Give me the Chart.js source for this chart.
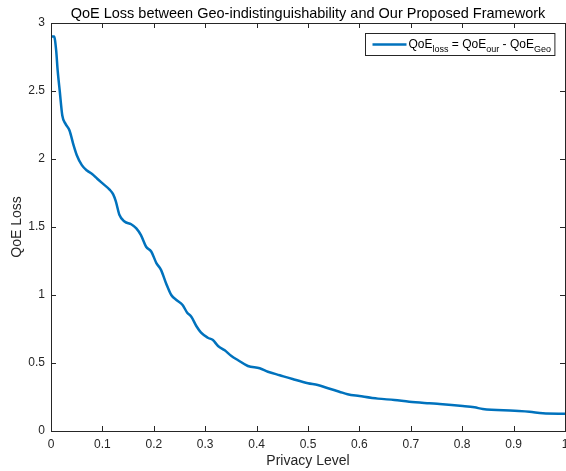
<!DOCTYPE html>
<html>
<head>
<meta charset="utf-8">
<script src="https://cdn.jsdelivr.net/npm/chart.js@4/dist/chart.umd.min.js"></script>
<style>
  html, body { margin: 0; padding: 0; background: #fff; }
  #wrap { width: 566px; height: 471px; }
</style>
</head>
<body>
<div id="wrap"><canvas id="chart" width="566" height="471"></canvas></div>
<script>
// valores
const privacyLevel = [0, 0.006, 0.010, 0.013, 0.017, 0.022, 0.028, 0.036, 0.044, 0.050,
  0.060, 0.070, 0.080, 0.090, 0.102, 0.114, 0.121, 0.126, 0.133, 0.143,
  0.156, 0.166, 0.175, 0.185, 0.195, 0.205, 0.214, 0.224, 0.234, 0.244,
  0.256, 0.265, 0.273, 0.283, 0.292, 0.305, 0.315, 0.325, 0.338, 0.351,
  0.364, 0.383, 0.406, 0.422, 0.445, 0.470, 0.500, 0.519, 0.539, 0.561,
  0.577, 0.600, 0.636, 0.668, 0.697, 0.736, 0.756, 0.801, 0.824, 0.840,
  0.902, 0.931, 0.957, 1.0]
const qoeLoss = [2.90, 2.90, 2.80, 2.65, 2.50, 2.32, 2.26, 2.21, 2.10, 2.03,
  1.955, 1.915, 1.89, 1.855, 1.815, 1.775, 1.74, 1.69, 1.59, 1.54,
  1.52, 1.49, 1.44, 1.355, 1.32, 1.235, 1.185, 1.085, 1.00, 0.963,
  0.926, 0.87, 0.84, 0.77, 0.723, 0.686, 0.669, 0.625, 0.593, 0.551,
  0.52, 0.478, 0.461, 0.436, 0.41, 0.382, 0.351, 0.338, 0.314, 0.289,
  0.27, 0.257, 0.238, 0.228, 0.215, 0.204, 0.199, 0.184, 0.174, 0.162,
  0.149, 0.142, 0.130, 0.127]

const xTicks = { min: 0, max: 1, step: 0.1 }
const yTicks = { min: 0, max: 3, step: 0.5 }

const titleText = 'QoE Loss between Geo-indistinguishability and Our Proposed Framework'
const xTitle = 'Privacy Level'
const yTitle = 'QoE Loss'
// leyenda: [texto, es subíndice]
const legendParts = [['QoE', false], ['loss', true], [' = QoE', false], ['our', true], [' - QoE', false], ['Geo', true]]

const lineColor = '#0072BD'
const axisColor = '#262626'
const fontFam = '"Liberation Sans", Arial, Helvetica, sans-serif'

const points = privacyLevel.map((x, i) => ({ x, y: qoeLoss[i] }))
const fmt = v => String(Number(v.toFixed(2)))

// caja estilo MATLAB con marcas hacia dentro + leyenda
const matlabBox = {
  id: 'matlabBox',
  afterDatasetsDraw(chart) {
    const { ctx, chartArea: a, scales } = chart
    ctx.save()
    ctx.strokeStyle = axisColor
    ctx.lineWidth = 1
    ctx.strokeRect(Math.round(a.left) + 0.5, Math.round(a.top) + 0.5,
      Math.round(a.right - a.left), Math.round(a.bottom - a.top))
    const tl = 5
    ctx.beginPath()
    scales.x.ticks.forEach(t => {
      const px = Math.round(scales.x.getPixelForValue(t.value)) + 0.5
      ctx.moveTo(px, a.bottom); ctx.lineTo(px, a.bottom - tl)
      ctx.moveTo(px, a.top); ctx.lineTo(px, a.top + tl)
    })
    scales.y.ticks.forEach(t => {
      const py = Math.round(scales.y.getPixelForValue(t.value)) + 0.5
      ctx.moveTo(a.left, py); ctx.lineTo(a.left + tl, py)
      ctx.moveTo(a.right, py); ctx.lineTo(a.right - tl, py)
    })
    ctx.stroke()

    // leyenda
    const mainFont = '12px ' + fontFam
    const subFont = '9px ' + fontFam
    let textW = 0
    legendParts.forEach(([s, sub]) => {
      ctx.font = sub ? subFont : mainFont
      textW += ctx.measureText(s).width
    })
    const boxH = 22
    const boxW = 7 + 34 + 2 + textW + 4
    const bx = Math.round(a.right - 11 - boxW) + 0.5
    const by = Math.round(a.top + 10) + 0.5
    ctx.fillStyle = '#fff'
    ctx.fillRect(bx, by, boxW, boxH)
    ctx.strokeStyle = axisColor
    ctx.lineWidth = 1
    ctx.strokeRect(bx, by, boxW, boxH)
    const cy = by + 11
    ctx.strokeStyle = lineColor
    ctx.lineWidth = 2.5
    ctx.beginPath()
    ctx.moveTo(bx + 7, cy); ctx.lineTo(bx + 41, cy)
    ctx.stroke()
    ctx.fillStyle = '#000'
    ctx.textBaseline = 'alphabetic'
    let tx = bx + 43
    legendParts.forEach(([s, sub]) => {
      ctx.font = sub ? subFont : mainFont
      ctx.fillText(s, tx, sub ? cy + 7 : cy + 3)
      tx += ctx.measureText(s).width
    })
    ctx.restore()
  }
}

new Chart(document.getElementById('chart').getContext('2d'), {
  type: 'scatter',
  data: {
    datasets: [{
      label: 'QoE loss',
      data: points,
      showLine: true,
      borderColor: lineColor,
      borderWidth: 2.5,
      pointRadius: 0,
      cubicInterpolationMode: 'monotone',
      fill: false
    }]
  },
  options: {
    responsive: false,
    animation: false,
    layout: { padding: { right: 1, left: 0, top: 0, bottom: 0 } },
    plugins: {
      legend: { display: false },
      tooltip: { enabled: false },
      title: {
        display: true,
        text: titleText,
        fullSize: false,
        color: '#000',
        font: { family: fontFam, size: 14.5, weight: 'normal', lineHeight: 1.2 },
        padding: { top: 4.8, bottom: 0.8 }
      }
    },
    scales: {
      x: {
        type: 'linear',
        min: xTicks.min,
        max: xTicks.max,
        grid: { display: false, drawTicks: false },
        border: { display: false },
        ticks: {
          stepSize: xTicks.step,
          color: axisColor,
          padding: 6,
          maxRotation: 0,
          font: { family: fontFam, size: 12 },
          callback: v => fmt(v)
        },
        title: {
          display: true,
          text: xTitle,
          color: axisColor,
          font: { family: fontFam, size: 14 },
          padding: { top: 0, bottom: 1 }
        },
        afterFit(s) { s.height = 40; s.paddingLeft = 0; s.paddingRight = 0 }
      },
      y: {
        min: yTicks.min,
        max: yTicks.max,
        grid: { display: false, drawTicks: false },
        border: { display: false },
        ticks: {
          stepSize: yTicks.step,
          color: axisColor,
          padding: 6,
          font: { family: fontFam, size: 12 },
          callback: v => fmt(v)
        },
        title: {
          display: true,
          text: yTitle,
          color: axisColor,
          font: { family: fontFam, size: 14 },
          padding: { top: 8.6, bottom: 0 }
        },
        afterFit(s) { s.width = 51; s.paddingTop = 0; s.paddingBottom = 0 }
      }
    }
  },
  plugins: [matlabBox]
})
</script>
</body>
</html>
